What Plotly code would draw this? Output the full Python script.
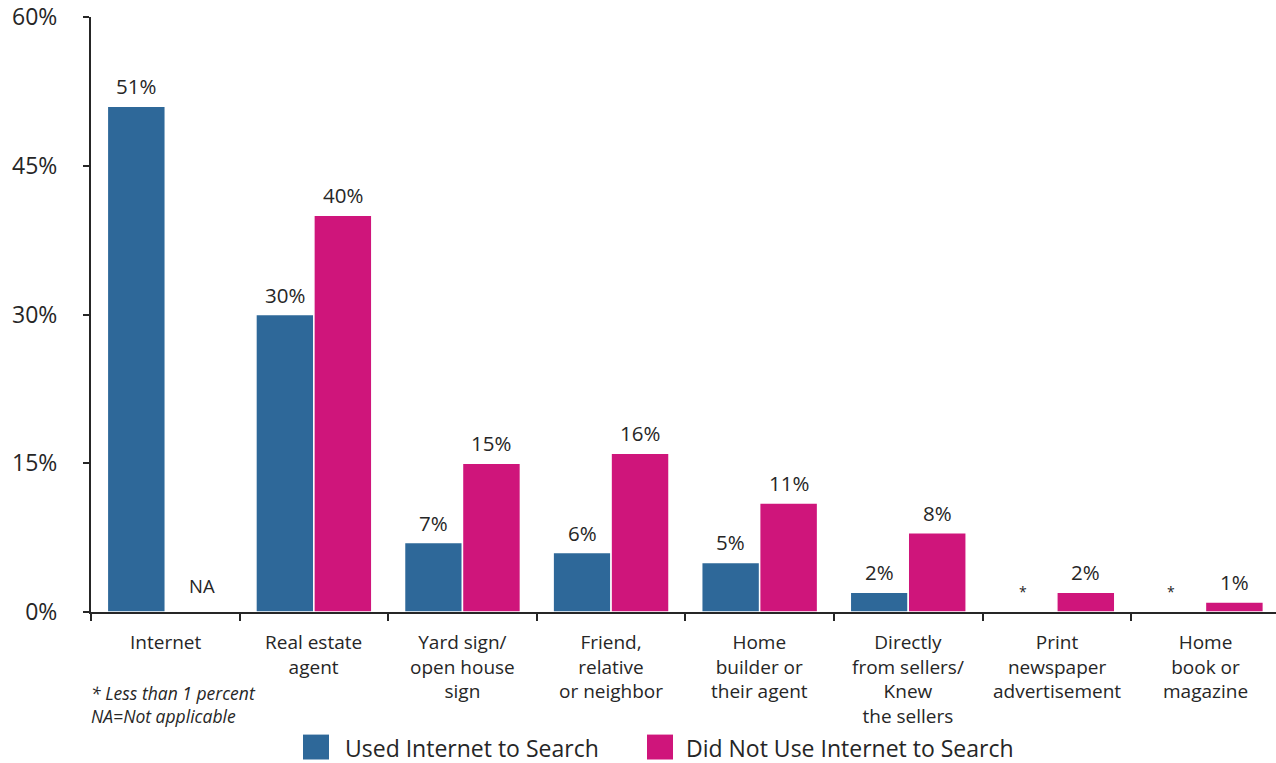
import plotly.graph_objects as go

# Where buyers first found the home they purchased
categories = [
    "Internet",
    "Real estate<br>agent",
    "Yard sign/<br>open house<br>sign",
    "Friend,<br>relative<br>or neighbor",
    "Home<br>builder or<br>their agent",
    "Directly<br>from sellers/<br>Knew<br>the sellers",
    "Print<br>newspaper<br>advertisement",
    "Home<br>book or<br>magazine",
]
used_internet = [51, 30, 7, 6, 5, 2, None, None]
no_internet = [None, 40, 15, 16, 11, 8, 2, 1]
used_notes = ["", "", "", "", "", "", "*", "*"]
no_notes = ["NA", "", "", "", "", "", "", ""]
y_ticks = [0, 15, 30, 45, 60]
y_tick_text = ["0%", "15%", "30%", "45%", "60%"]

series_names = ["Used Internet to Search", "Did Not Use Internet to Search"]
BLUE = "#2e6899"
PINK = "#cf157b"
INK = "#262626"
FONT = "Open Sans"

W, H = 1276, 763
L, R, T, B = 91, 0, 15, 151
plot_w = W - L - R
plot_h = H - T - B


def px_x(x):
    return (x - L) / plot_w


def px_y(y):
    return (H - B - y) / plot_h


fig = go.Figure()
for name, vals, color in [(series_names[0], used_internet, BLUE), (series_names[1], no_internet, PINK)]:
    fig.add_trace(go.Bar(
        x=list(range(len(categories))),
        y=vals,
        name=name,
        marker=dict(color=color, line=dict(color="white", width=1.5)),
        showlegend=False,
        hoverinfo="y+name",
    ))

# Value labels above each bar, plus notes where no bar is drawn
for i in range(len(categories)):
    for vals, notes, shift in [(used_internet, used_notes, -29), (no_internet, no_notes, 29)]:
        v = vals[i]
        if v is not None:
            fig.add_annotation(x=i, xshift=shift, y=v, yshift=4, yanchor="bottom",
                               text=f"{v}%", showarrow=False,
                               font=dict(family=FONT, size=20.5, color=INK))
        elif notes[i] == "*":
            fig.add_annotation(x=i, xshift=shift - 5, y=0, yshift=21, yanchor="middle",
                               text="*", showarrow=False,
                               font=dict(family=FONT, size=14, color=INK))
        elif notes[i]:
            fig.add_annotation(x=i, xshift=shift + 8, y=0, yshift=27, yanchor="middle",
                               text=notes[i], showarrow=False,
                               font=dict(family=FONT, size=18.5, color=INK))

# Category labels under each group
for i, cat in enumerate(categories):
    fig.add_annotation(x=i, xref="x", yref="paper", y=px_y(627), yanchor="top",
                       text=cat, showarrow=False, align="center",
                       font=dict(family=FONT, size=19, color=INK))

fig.update_layout(
    width=W, height=H,
    margin=dict(l=L, r=R, t=T, b=B),
    paper_bgcolor="white", plot_bgcolor="white",
    barmode="group", bargap=0.22, bargroupgap=0,
    font=dict(family=FONT, color=INK),
)
fig.update_yaxes(
    range=[0, 60], tickmode="array", tickvals=y_ticks, ticktext=y_tick_text,
    showgrid=False, zeroline=False,
    showline=True, linecolor=INK, linewidth=2,
    ticks="outside", ticklen=6, tickwidth=2, tickcolor=INK,
    ticklabelstandoff=21, ticklabeloverflow="allow",
    tickfont=dict(family=FONT, size=23, color=INK),
)
fig.update_xaxes(
    range=[-0.5, 7.475],
    tickmode="array", tickvals=[i + 0.5 for i in range(-1, len(categories))],
    showticklabels=False,
    showgrid=False, zeroline=False,
    showline=True, linecolor=INK, linewidth=2,
    ticks="outside", ticklen=7, tickwidth=2, tickcolor=INK,
)

# Footnotes
fig.add_annotation(xref="paper", yref="paper", x=px_x(89), y=px_y(705), xanchor="left", yanchor="middle",
                   align="left", showarrow=False,
                   text="<i>* Less than 1 percent<br>NA=Not applicable</i>",
                   font=dict(family=FONT, size=17.5, color=INK))

# Legend
for (x0, tx), name, color in zip([(303, 343), (647, 684)], series_names, [BLUE, PINK]):
    fig.add_shape(type="rect", xref="paper", yref="paper",
                  x0=px_x(x0), x1=px_x(x0 + 26), y0=px_y(760), y1=px_y(735),
                  fillcolor=color, line=dict(width=0))
    fig.add_annotation(xref="paper", yref="paper", x=px_x(tx), y=px_y(748), xanchor="left", yanchor="middle",
                       showarrow=False, text=name, font=dict(family=FONT, size=23, color=INK))

fig.write_html("out.html")
